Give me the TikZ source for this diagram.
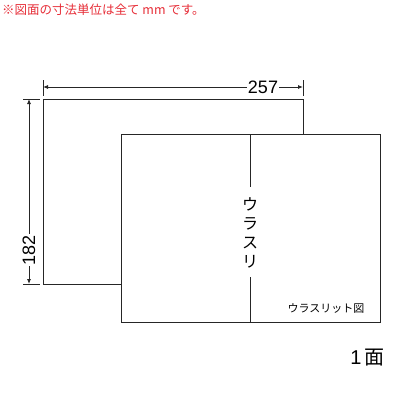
\documentclass[tikz,border=0pt]{standalone}
\usepackage{fontspec}
\setmainfont{Liberation Sans}
\newfontfamily\jp{Noto Sans CJK JP}
\usetikzlibrary{arrows.meta}
\definecolor{notered}{RGB}{230,45,55}
\tikzset{
  sheet/.style={draw=black!85,line width=0.9pt},
  dimline/.style={draw=black!85,line width=0.8pt},
  dimtip/.style={dimline,-{Latex[length=5pt,width=4pt]}},
  dimlabel/.style={inner sep=1pt,font=\fontsize{18}{18}\selectfont}
}
\begin{document}
\begin{tikzpicture}[x=1pt,y=-1pt]
\useasboundingbox (0,0) rectangle (400,400);
% note
\node [anchor=west,inner sep=0pt,text=notered,font=\jp\fontsize{12.5}{12.5}\selectfont] (note) at (2,10) {※図面の寸法単位は全て mm です。};
% sheets
\draw [sheet] (43,99) rectangle (303,284);
\draw [sheet,fill=white] (121,134) rectangle (380,322);
% slit
\node [inner sep=0pt,align=center,font=\jp\fontsize{16}{19}\selectfont] (slit) at (250,233) {ウ\\ラ\\ス\\リ};
\coordinate (slittop) at (250,134);
\coordinate (slitbot) at (250,322);
\draw [sheet] (slittop) -- (250,187);
\draw [sheet] (250,277) -- (slitbot);
\node [inner sep=0pt,font=\jp\fontsize{11}{11}\selectfont] (kind) at (326,309) {ウラスリット図};
% width
\foreach \x in {43,303} \draw [dimline] (\x,80) -- (\x,96);
\node [dimlabel] (w) at (263,87) {257};
\coordinate (wl) at (43,87);
\coordinate (wr) at (303,87);
\draw [dimtip] (w.west) -- (wl);
\draw [dimtip] (w.east) -- (wr);
% height
\foreach \y in {99,284} \draw [dimline] (23,\y) -- (40,\y);
\node [dimlabel,rotate=90] (h) at (29,250) {182};
\coordinate (ht) at (29,99);
\coordinate (hb) at (29,284);
\draw [dimtip] (h.east) -- (ht);
\draw [dimtip] (h.west) -- (hb);
% count
\node [anchor=east,inner sep=0pt,font=\fontsize{20}{20}\selectfont] (count) at (385,358) {1\,{\jp 面}};
\end{tikzpicture}
\end{document}
